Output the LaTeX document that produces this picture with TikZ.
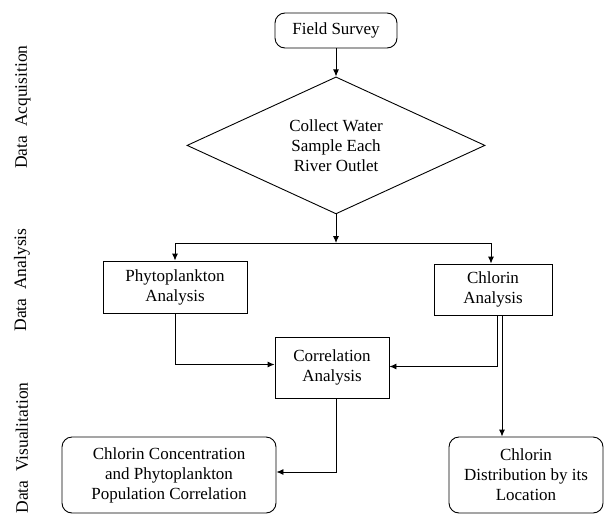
\documentclass[tikz,border=0pt]{standalone}
\usepackage{fontspec}
\setmainfont{Liberation Serif}
\usetikzlibrary{shapes.geometric, positioning, arrows.meta}
\tikzset{
        >={Latex[length=7pt,width=6pt]}, % small filled arrow heads
        every node/.style={font=\fontsize{17}{20}\selectfont, align=center},
        flowline/.style={->, line width=0.9pt}, % connectors between the boxes
        procbox/.style={draw, line width=0.9pt, rectangle, inner sep=2pt}, % plain steps
        endbox/.style={draw, line width=0.9pt, rectangle, rounded corners=10pt, inner sep=2pt}, % start and results
        phase/.style={rotate=90, font=\fontsize{17.5}{20}\selectfont}, % labels of the three stages
        }

\begin{document}
\begin{tikzpicture}[x=1pt, y=1pt]
        \useasboundingbox (0,0) rectangle (604,-514);
        % stage labels on the left
        \node[phase] (acq) at (23,-107) {Data\ \ Acquisition};
        \node[phase] (ana) at (22,-280) {Data\ \ Analysis};
        \node[phase] (vis) at (22,-448) {Data\ \ Visualitation};

        % steps
        \node[endbox, minimum width=122pt, minimum height=35pt] (survey) at (336,-30.5) {Field Survey};
        \node[draw, line width=0.9pt, diamond, aspect=2.18, minimum width=298pt, minimum height=137pt,
              below=28pt of survey] (collect) {Collect Water\\Sample Each\\River Outlet};
        \coordinate (split) at (336,-243);
        \node[procbox, minimum width=144pt, minimum height=52pt] (phyto) at (175,-287) {Phytoplankton\\Analysis};
        \node[procbox, minimum width=118pt, minimum height=51pt] (chlorin) at (493,-289.5) {Chlorin\\Analysis};
        \node[procbox, minimum width=114pt, minimum height=61pt] (corr) at (332,-367.5) {Correlation\\Analysis};
        \node[endbox, minimum width=214pt, minimum height=76pt] (conc) at (169,-475) {Chlorin Concentration\\and Phytoplankton\\Population Correlation};
        \node[endbox, minimum width=154pt, minimum height=76pt] (distrib) at (526,-475) {Chlorin\\Distribution by its\\Location};

        % connectors
        \draw[flowline] (survey) -- (collect);
        \draw[flowline] (collect.south) -- (split);
        \draw[flowline] (split) -| (phyto.north);
        \draw[flowline] (split) -| ([xshift=-2pt]chlorin.north);
        \draw[flowline] (phyto.south) |- ([yshift=3pt]corr.west);
        \draw[flowline] ([xshift=4pt]chlorin.south) |- ([yshift=1pt]corr.east);
        \draw[flowline] ([xshift=9pt]chlorin.south) -- ([xshift=9pt]chlorin.south |- distrib.north);
        \draw[flowline] ([xshift=4pt]corr.south) |- ([yshift=3pt]conc.east);
\end{tikzpicture}
\end{document}
